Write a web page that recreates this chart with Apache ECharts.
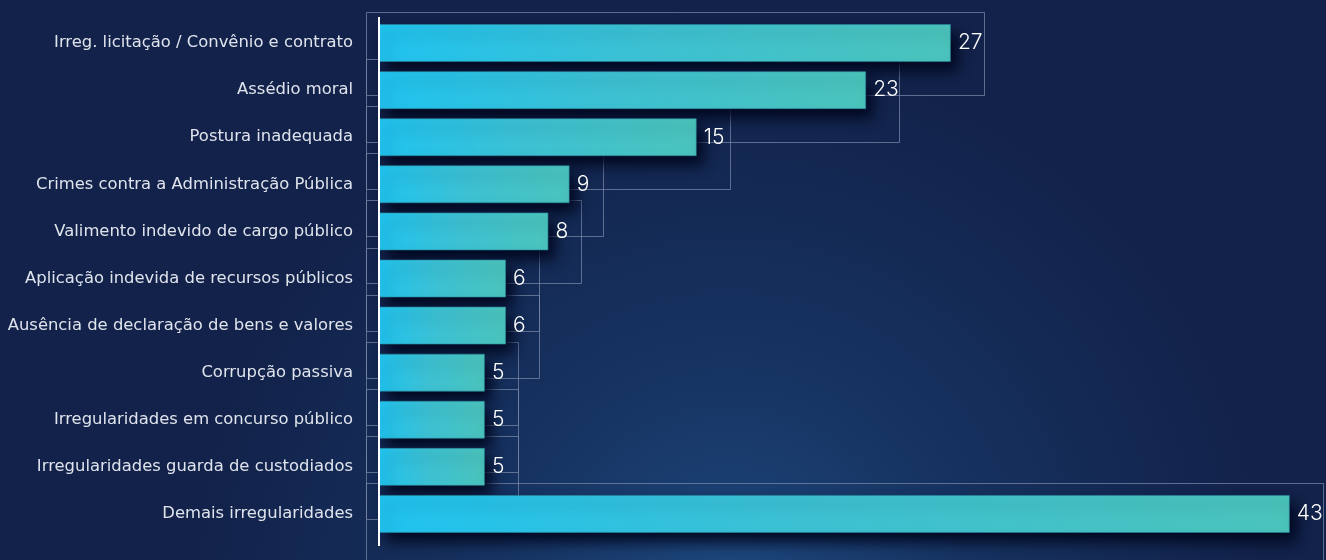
<!DOCTYPE html>
<html>
<head>
<meta charset="utf-8">
<title>Irregularidades</title>
<script src="https://cdn.jsdelivr.net/npm/echarts@6/dist/echarts.min.js"></script>
<style>
  html, body { margin: 0; padding: 0; background: #12224a; }
  #chart { width: 1326px; height: 560px; }
</style>
</head>
<body>
<div id="chart"></div>
<script>
// Categories (top to bottom) and their counts
const categories = [
  'Irreg. licitação / Convênio e contrato',
  'Assédio moral',
  'Postura inadequada',
  'Crimes contra a Administração Pública',
  'Valimento indevido de cargo público',
  'Aplicação indevida de recursos públicos',
  'Ausência de declaração de bens e valores',
  'Corrupção passiva',
  'Irregularidades em concurso público',
  'Irregularidades guarda de custodiados',
  'Demais irregularidades'
];
const counts = [27, 23, 15, 9, 8, 6, 6, 5, 5, 5, 43];

const chart = echarts.init(document.getElementById('chart'), null, { renderer: 'canvas' });

const BAR_H = 38;

const option = {
  backgroundColor: {
    type: 'radial', x: 0.55, y: 1.05, r: 0.95,
    colorStops: [
      { offset: 0, color: '#1d477d' },
      { offset: 0.45, color: '#163260' },
      { offset: 1, color: '#12224a' }
    ]
  },
  animation: false,
  grid: { left: 379, right: 15, top: 19.5, bottom: 22.5, containLabel: false },
  xAxis: {
    type: 'value', min: 0, max: 44,
    show: false
  },
  yAxis: {
    type: 'category',
    data: categories,
    inverse: true,
    axisLine: { show: false },
    axisTick: { show: false },
    axisLabel: {
      margin: 26,
      color: '#dfe3ec',
      fontFamily: 'DejaVu Sans',
      fontSize: 16.4
    }
  },
  graphic: [{
    type: 'line', z: 100,
    shape: { x1: 379, y1: 17, x2: 379, y2: 546 },
    style: { stroke: '#ffffff', lineWidth: 2 }
  }],
  series: [
    {
      // outline frames behind each bar
      type: 'custom',
      z: 1,
      clip: false,
      silent: true,
      data: counts.map((v, i) => [v, i]),
      encode: { x: 0, y: 1 },
      renderItem: function (params, api) {
        const end = api.coord([api.value(0), api.value(1)]);
        const start = api.coord([0, api.value(1)]);
        const x0 = Math.round(start[0] - 13) + 0.5;
        const x1 = Math.round(end[0] + 33) + 0.5;
        const y0 = Math.round(end[1] - BAR_H / 2 - 12) + 0.5;
        const y1 = Math.round(end[1] + BAR_H / 2 + 33) + 0.5;
        return {
          type: 'rect',
          shape: { x: x0, y: y0, width: x1 - x0, height: y1 - y0 },
          style: { fill: null, stroke: 'rgba(120,135,165,0.75)', lineWidth: 1 }
        };
      }
    },
    {
      type: 'bar',
      z: 5,
      data: counts,
      barWidth: BAR_H,
      itemStyle: {
        color: {
          type: 'linear', x: 0, y: 0, x2: 1, y2: 0,
          colorStops: [
            { offset: 0, color: '#20c3ef' },
            { offset: 0.45, color: '#3cc1d4' },
            { offset: 1, color: '#4bc4bc' }
          ]
        },
        borderColor: 'rgba(40,135,155,0.6)',
        borderWidth: 1,
        shadowColor: 'rgba(0,6,30,0.95)',
        shadowBlur: 14,
        shadowOffsetX: 7,
        shadowOffsetY: 9
      },
      label: {
        show: true,
        position: 'right',
        distance: 7,
        color: '#ffffff',
        fontFamily: 'Inter',
        fontWeight: 300,
        fontSize: 21
      }
    }
  ]
};

chart.setOption(option);
</script>
</body>
</html>
